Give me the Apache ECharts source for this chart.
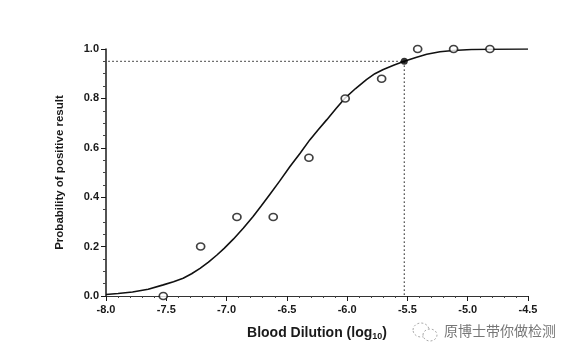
<!DOCTYPE html>
<html>
<head>
<meta charset="utf-8">
<style>
  html, body { margin: 0; padding: 0; background: #fff; }
  #chart { width: 574px; height: 358px; }
</style>
<script src="https://cdn.jsdelivr.net/npm/echarts@6/dist/echarts.min.js"></script>
</head>
<body>
<div id="chart"></div>
<script>
// fitted curve
const curveX = [-8, -7.9, -7.78, -7.65, -7.525, -7.44, -7.36, -7.29, -7.22, -7.15, -7.08, -7.02, -6.944, -6.86, -6.78, -6.71, -6.64, -6.56, -6.474, -6.39, -6.31, -6.24, -6.17, -6.09, -6.02, -5.93, -5.84, -5.77, -5.7, -5.61, -5.526, -5.43, -5.34, -5.23, -5.12, -4.97, -4.82, -4.5];
const curveY = [0.006, 0.01, 0.016, 0.027, 0.045, 0.058, 0.072, 0.09, 0.112, 0.137, 0.166, 0.193, 0.23, 0.275, 0.322, 0.366, 0.412, 0.465, 0.524, 0.578, 0.632, 0.673, 0.713, 0.76, 0.8, 0.84, 0.876, 0.9, 0.917, 0.935, 0.95, 0.966, 0.979, 0.989, 0.994, 0.998, 0.999, 1];

// measured points (they sit slightly left of the ticks in the picture)
const pointX = [-7.525, -7.215, -6.914, -6.613, -6.317, -6.016, -5.714, -5.415, -5.117, -4.816];
const pointY = [0, 0.2, 0.32, 0.32, 0.56, 0.8, 0.88, 1, 1, 1];

// 95% detection limit and its guide lines
const limitX = -5.526;
const limitY = 0.95;
const guideX = [-7.98, limitX, limitX];
const guideY = [limitY, limitY, 0];

const zip = (xs, ys) => xs.map((x, i) => [x, ys[i]]);
const labelFont = 'Liberation Sans';
const ink = '#1a1a1a';

const chart = echarts.init(document.getElementById('chart'));
chart.setOption({
  animation: false,
  backgroundColor: '#fff',
  grid: { left: 106, right: 46, top: 49, bottom: 62 },
  xAxis: {
    type: 'value',
    min: -8,
    max: -4.5,
    interval: 0.5,
    name: '{t|Blood Dilution (log}{s|10}{t|)}',
    nameLocation: 'middle',
    nameGap: 29,
    nameTextStyle: {
      rich: {
        t: { fontFamily: labelFont, fontWeight: 'bold', fontSize: 14, color: ink },
        s: { fontFamily: labelFont, fontWeight: 'bold', fontSize: 9, color: ink, verticalAlign: 'bottom', padding: [7, 0, 0, 0] }
      }
    },
    axisLine: { onZero: false, lineStyle: { color: '#333', width: 1 } },
    axisTick: { length: 5, lineStyle: { color: ink, width: 1 } },
    minorTick: { show: true, splitNumber: 5, length: 2, lineStyle: { color: '#444', width: 1 } },
    splitLine: { show: false },
    axisLabel: {
      margin: 8,
      fontFamily: labelFont,
      fontWeight: 'bold',
      fontSize: 11,
      color: ink,
      formatter: v => v.toFixed(1)
    }
  },
  yAxis: {
    type: 'value',
    min: 0,
    max: 1,
    interval: 0.2,
    name: 'Probability of positive result',
    nameLocation: 'middle',
    nameGap: 40,
    nameTextStyle: { fontFamily: labelFont, fontWeight: 'bold', fontSize: 11.5, color: ink },
    axisLine: { onZero: false, lineStyle: { color: ink, width: 1.5 } },
    axisTick: { length: 5, lineStyle: { color: ink, width: 1 } },
    minorTick: { show: true, splitNumber: 4, length: 3, lineStyle: { color: '#444', width: 1 } },
    splitLine: { show: false },
    axisLabel: {
      margin: 7,
      fontFamily: labelFont,
      fontWeight: 'bold',
      fontSize: 11,
      color: ink,
      formatter: v => v.toFixed(1)
    }
  },
  series: [
    {
      type: 'line',
      data: zip(guideX, guideY),
      showSymbol: false,
      lineStyle: { color: '#111', width: 1.2, type: [1.2, 2.8] },
      z: 2
    },
    {
      type: 'line',
      data: zip(curveX, curveY),
      showSymbol: false,
      lineStyle: { color: '#111', width: 1.6 },
      z: 3
    },
    {
      type: 'scatter',
      data: zip(pointX, pointY),
      symbol: 'circle',
      symbolSize: [8, 7],
      clip: false,
      itemStyle: { color: '#fff', borderColor: '#111', borderWidth: 1.6 },
      z: 4
    },
    {
      type: 'scatter',
      data: [[limitX, limitY]],
      symbol: 'circle',
      symbolSize: 7,
      itemStyle: { color: '#000' },
      z: 5
    }
  ],
  graphic: [
    // watermark at the lower right: two dashed chat bubbles and the account name
    {
      type: 'ellipse',
      shape: { cx: 421, cy: 330, rx: 8, ry: 7 },
      style: { fill: 'none', stroke: '#aaa', lineWidth: 1, lineDash: [2, 2] }
    },
    {
      type: 'ellipse',
      shape: { cx: 430, cy: 335, rx: 7, ry: 6 },
      style: { fill: '#fff', stroke: '#aaa', lineWidth: 1, lineDash: [2, 2] }
    },
    {
      type: 'text',
      left: 444,
      top: 324,
      style: {
        text: '原博士带你做检测',
        fontFamily: 'Noto Sans CJK SC',
        fontSize: 14,
        fill: '#777'
      }
    }
  ]
});
</script>
</body>
</html>
